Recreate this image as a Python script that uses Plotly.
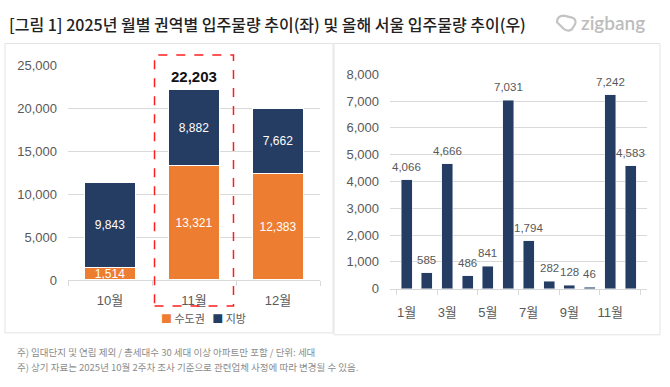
import plotly.graph_objects as go

W, H = 670, 387

# ---- data ----
left_months = ["10월", "11월", "12월"]
metro = [1514, 13321, 12383]      # 수도권
region = [9843, 8882, 7662]       # 지방
left_totals = [a + b for a, b in zip(metro, region)]

seoul_months = ["1월", "2월", "3월", "4월", "5월", "6월", "7월", "8월", "9월", "10월", "11월", "12월"]
seoul_supply = [4066, 585, 4666, 486, 841, 7031, 1794, 282, 128, 46, 7242, 4583]

title_text = "[그림 1] 2025년 월별 권역별 입주물량 추이(좌) 및 올해 서울 입주물량 추이(우)"
note1 = "주) 임대단지 및 연립 제외 / 총세대수 30 세대 이상 아파트만 포함 / 단위: 세대"
note2 = "주) 상기 자료는 2025년 10월 2주차 조사 기준으로 관련업체 사정에 따라 변경될 수 있음."

ORANGE = "#ED7D31"
NAVY = "#253D63"
GRID = "#D9D9D9"
TICK = "#595959"
FONT = "Liberation Sans, Noto Sans CJK KR, sans-serif"
KFONT = "Noto Sans CJK KR, sans-serif"


def px(x):
    return x / W


def py(y):
    return 1 - y / H


fig = go.Figure()

fig.add_trace(go.Bar(
    x=left_months, y=metro, name="수도권", marker=dict(color=ORANGE, line=dict(color="white", width=1)),
    width=0.6, text=[f"{v:,}" for v in metro], textposition="inside", insidetextanchor="middle",
    constraintext="none",
    textfont=dict(color="white", size=12, family=FONT), xaxis="x", yaxis="y", showlegend=False,
    hoverinfo="skip"))
fig.add_trace(go.Bar(
    x=left_months, y=region, name="지방", marker=dict(color=NAVY, line=dict(color="white", width=1)),
    width=0.6, text=[f"{v:,}" for v in region], textposition="inside", insidetextanchor="middle",
    constraintext="none",
    textfont=dict(color="white", size=12, family=FONT), xaxis="x", yaxis="y", showlegend=False,
    hoverinfo="skip"))

fig.add_trace(go.Bar(
    x=seoul_months, y=seoul_supply, marker=dict(color=NAVY), width=0.54,
    xaxis="x2", yaxis="y2", showlegend=False, hoverinfo="skip"))

annotations = []
# value labels above Seoul bars
for m, v in zip(seoul_months, seoul_supply):
    annotations.append(dict(x=m, y=v, xref="x2", yref="y2", text=f"{v:,}", showarrow=False,
                            yanchor="middle", yshift=13,
                            font=dict(size=11.5, color=TICK, family=FONT)))
# total label on 11월
annotations.append(dict(x=left_months[1], y=left_totals[1], xref="x", yref="y",
                        text=f"<b>{left_totals[1]:,}</b>", showarrow=False, yanchor="bottom", yshift=3,
                        font=dict(size=15, color="#111111", family=FONT)))
# legend (custom)
annotations.append(dict(x=px(159), y=py(324), xref="paper", yref="paper", xanchor="left", yanchor="middle",
                        text=f"<span style='color:{ORANGE}'>■</span> 수도권   <span style='color:{NAVY}'>■</span> 지방",
                        showarrow=False, font=dict(size=11, color=TICK, family=KFONT)))
# title
annotations.append(dict(x=px(7), y=py(18), xref="paper", yref="paper", xanchor="left", yanchor="middle",
                        text=title_text, showarrow=False,
                        font=dict(size=16, color="#222222", family=KFONT, weight=500)))
# logo text
annotations.append(dict(x=px(579), y=py(16), xref="paper", yref="paper", xanchor="left", yanchor="middle",
                        text="zigbang", showarrow=False,
                        font=dict(size=19, color="#BDBDBD", family="Lato, sans-serif", weight=600)))
# notes
annotations.append(dict(x=px(15), y=py(359), xref="paper", yref="paper", xanchor="left", yanchor="middle",
                        text=note1, showarrow=False, font=dict(size=9.5, color="#8C8C8C", family=KFONT)))
annotations.append(dict(x=px(15), y=py(374), xref="paper", yref="paper", xanchor="left", yanchor="middle",
                        text=note2, showarrow=False, font=dict(size=9.5, color="#8C8C8C", family=KFONT)))

shapes = [
    # panel borders
    dict(type="rect", xref="paper", yref="paper", x0=px(5), x1=px(333), y0=py(339), y1=py(38),
         line=dict(color="#E3E3E3", width=1), layer="below"),
    dict(type="rect", xref="paper", yref="paper", x0=px(334), x1=px(660), y0=py(341), y1=py(38),
         line=dict(color="#E3E3E3", width=1), layer="below"),
    # red dashed highlight around 11월
    dict(type="rect", xref="x", yref="paper", x0=0.53, x1=1.47, y0=py(311), y1=py(50),
         line=dict(color="#FF1E1E", width=1.5, dash="dash")),
    # logo icon
    dict(type="path", xref="paper", yref="paper",
         path=f"M {px(557)} {py(16)} Q {px(557)} {py(9)} {px(564)} {py(9)} L {px(572)} {py(11)} "
              f"Q {px(577)} {py(13)} {px(575)} {py(18)} L {px(572)} {py(23)} Q {px(569)} {py(26)} {px(564)} {py(23)} Z",
         line=dict(color="#C4C4C4", width=2.2)),
]

fig.update_layout(
    width=W, height=H, margin=dict(l=0, r=0, t=0, b=0),
    paper_bgcolor="white", plot_bgcolor="white",
    barmode="stack",
    annotations=annotations, shapes=shapes,
    font=dict(family=FONT, color=TICK),
    xaxis=dict(domain=[px(68), px(320)], anchor="y", type="category",
               showline=True, linecolor=GRID, ticks="outside", tickson="boundaries",
               ticklen=5, tickcolor=GRID, tickfont=dict(size=13, color=TICK, family=FONT),
               showgrid=False, fixedrange=True, tickangle=0, ticklabelstandoff=8),
    yaxis=dict(domain=[py(284), py(61)], anchor="x", range=[0, 25000], dtick=5000,
               tickformat=",", showgrid=True, gridcolor=GRID, gridwidth=1, zeroline=False,
               tickfont=dict(size=13, color=TICK, family=FONT), ticklabelstandoff=10, fixedrange=True),
    xaxis2=dict(domain=[px(390), px(647)], anchor="y2", type="category",
                showline=True, linecolor=GRID, ticks="outside", tickson="boundaries", dtick=2,
                ticklen=5, tickcolor=GRID, tickfont=dict(size=13, color=TICK, family=FONT),
                showgrid=False, fixedrange=True, tickangle=0, ticklabelstandoff=12),
    yaxis2=dict(domain=[py(293), py(70)], anchor="x2", range=[0, 8000], dtick=1000,
                tickformat=",", showgrid=True, gridcolor=GRID, gridwidth=1, zeroline=False,
                tickfont=dict(size=13, color=TICK, family=FONT), ticklabelstandoff=10, fixedrange=True),
)

fig.write_html("out.html", config={"displayModeBar": False},
               post_script="document.body.style.margin='0';document.body.style.overflow='hidden';")
